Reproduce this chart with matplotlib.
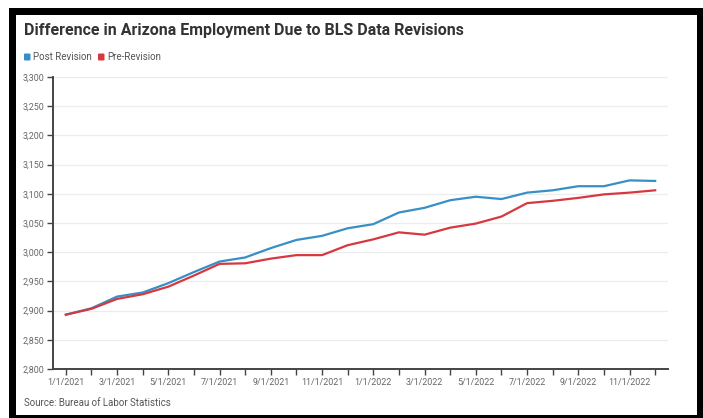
import matplotlib
matplotlib.use('Agg')
import matplotlib.pyplot as plt
from matplotlib.patches import Rectangle, FancyBboxPatch

plt.rcParams['font.family'] = ['Roboto', 'DejaVu Sans']

# monthly data, Jan 2021 - Dec 2022 (thousands of jobs)
months = ['1/1/2021', '2/1/2021', '3/1/2021', '4/1/2021', '5/1/2021', '6/1/2021',
          '7/1/2021', '8/1/2021', '9/1/2021', '10/1/2021', '11/1/2021', '12/1/2021',
          '1/1/2022', '2/1/2022', '3/1/2022', '4/1/2022', '5/1/2022', '6/1/2022',
          '7/1/2022', '8/1/2022', '9/1/2022', '10/1/2022', '11/1/2022', '12/1/2022']
post_revision = [2893, 2904, 2924, 2931, 2947, 2966, 2984, 2991, 3007, 3021, 3028, 3041,
                 3048, 3068, 3076, 3089, 3095, 3091, 3102, 3106, 3113, 3113, 3123, 3122]
pre_revision = [2893, 2903, 2920, 2928, 2941, 2960, 2980, 2981, 2989, 2995, 2995, 3012,
                3022, 3034, 3030, 3042, 3049, 3061, 3084, 3088, 3093, 3099, 3102, 3106]
y_ticks = [2800, 2850, 2900, 2950, 3000, 3050, 3100, 3150, 3200, 3250, 3300]

W, H = 703, 418
fig = plt.figure(figsize=(W / 100, H / 100), dpi=100)

# black frame around the card
fig.add_artist(Rectangle((9 / W, 0), (W - 9) / W, 1 - 8 / H, transform=fig.transFigure,
                         facecolor='black', edgecolor='none', zorder=-10))
fig.add_artist(Rectangle((16 / W, 3 / H), (697 - 16) / W, 1 - 15 / H - 3 / H,
                         transform=fig.transFigure, facecolor='white', edgecolor='none', zorder=-9))

ax = fig.add_axes([53 / W, 1 - 369 / H, (668 - 53) / W, (369 - 77) / H])
x = list(range(len(months)))
ax.plot(x, post_revision, color='#3790c5', lw=1.6, label='Post Revision', zorder=3)
ax.plot(x, pre_revision, color='#d7383f', lw=1.6, label='Pre-Revision', zorder=3)

ax.set_xlim(-0.5, len(months) - 0.5)
ax.set_ylim(2800, 3300)
ax.set_yticks(y_ticks)
ax.set_yticklabels([f'{v:,}' for v in y_ticks])
ax.set_xticks(x)
ax.set_xticklabels([m if i % 2 == 0 else '' for i, m in enumerate(months)])
ax.tick_params(axis='both', colors='#444444', labelcolor='#666666', labelsize=6.4,
               length=4, width=1, pad=2)
ax.tick_params(axis='x', pad=2.5)
ax.grid(axis='y', color='#ececec', lw=0.9)
ax.set_axisbelow(True)
for s in ['top', 'right']:
    ax.spines[s].set_visible(False)
for s in ['left', 'bottom']:
    ax.spines[s].set_color('#444444')
    ax.spines[s].set_linewidth(1.4)

fig.text(24 / W, 1 - 31 / H, 'Difference in Arizona Employment Due to BLS Data Revisions',
         fontsize=11.5, fontweight='bold', color='#333333', va='center', ha='left')

# legend as colored squares + labels
for lx, col, lab in [(24, '#3790c5', 'Post Revision'), (98, '#d7383f', 'Pre-Revision')]:
    fig.add_artist(FancyBboxPatch((lx / W, 1 - 60.5 / H), 6.5 / W, 7 / H,
                                  boxstyle='round,pad=0,rounding_size=0.002',
                                  transform=fig.transFigure, facecolor=col, edgecolor='none'))
    fig.text((lx + 9) / W, 1 - 57 / H, lab, fontsize=7, color='#555555', va='center')

fig.text(24 / W, 1 - 403 / H, 'Source: Bureau of Labor Statistics', fontsize=7,
         color='#555555', va='center', ha='left')

fig.savefig('out.png', dpi=100)
